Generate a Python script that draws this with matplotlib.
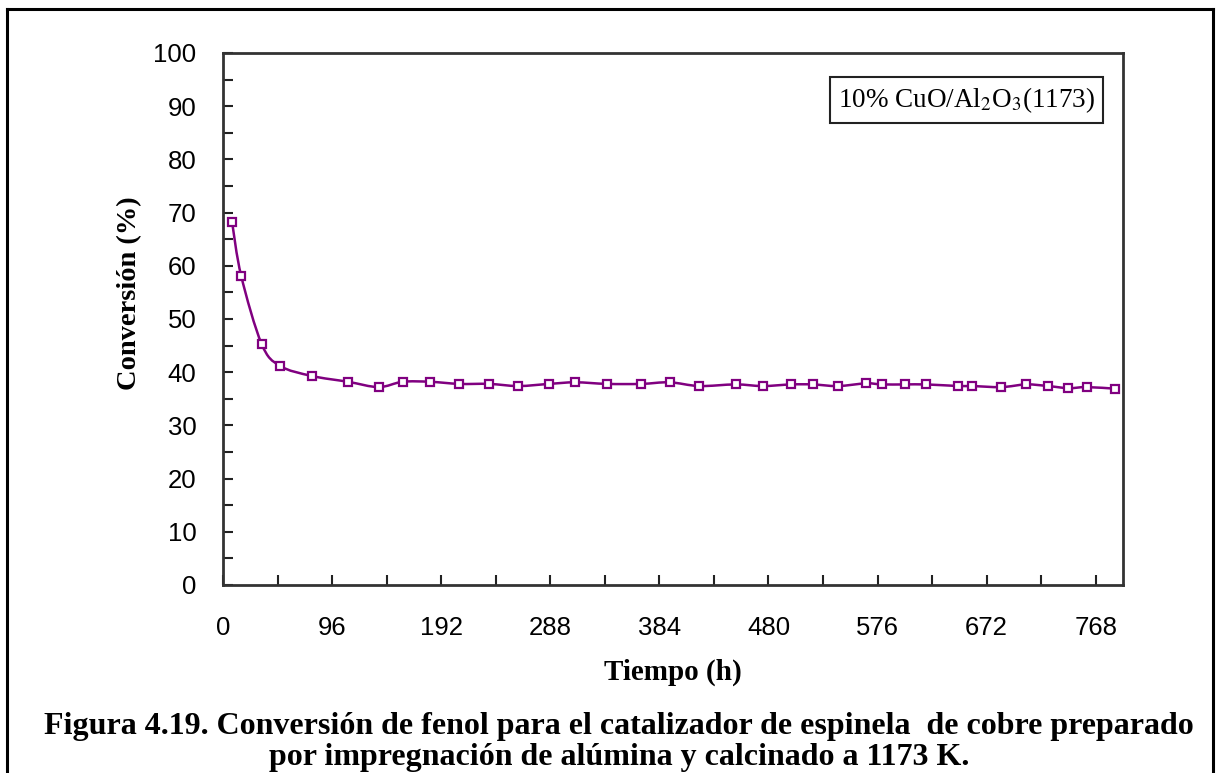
import matplotlib
matplotlib.use("Agg")
import matplotlib.pyplot as plt
from matplotlib.path import Path
from matplotlib.patches import PathPatch
from matplotlib.lines import Line2D
from matplotlib.ticker import MultipleLocator

# Conversión de fenol frente al tiempo, 10% CuO/Al2O3 calcinado a 1173 K
tiempo_h = [8, 16, 34, 50, 78, 110, 137, 158, 182, 208, 234, 260, 287, 310, 338,
            368, 393, 419, 451, 475, 500, 519, 541, 566, 580, 600, 619, 647, 659,
            685, 707, 726, 744, 760, 785]
conversion = [68.2, 58.1, 45.3, 41.2, 39.3, 38.2, 37.2, 38.2, 38.2, 37.8, 37.8,
              37.4, 37.8, 38.1, 37.8, 37.8, 38.1, 37.4, 37.7, 37.4, 37.7, 37.7,
              37.4, 37.9, 37.7, 37.7, 37.7, 37.4, 37.4, 37.2, 37.7, 37.4, 37.0,
              37.2, 36.9]
x_ticks = [0, 96, 192, 288, 384, 480, 576, 672, 768]
y_ticks = [0, 10, 20, 30, 40, 50, 60, 70, 80, 90, 100]

serie_label = r"10% CuO/Al$_2$O$_3$(1173)"
caption_1 = "Figura 4.19. Conversión de fenol para el catalizador de espinela  de cobre preparado"
caption_2 = "por impregnación de alúmina y calcinado a 1173 K."

PURPLE = "#800080"
plt.rcParams["mathtext.fontset"] = "stix"


def smooth_path(xs, ys):
    # curva suavizada tipo Catmull-Rom con segmentos Bezier cúbicos
    pts = list(zip(xs, ys))
    n = len(pts)
    verts = [pts[0]]
    codes = [Path.MOVETO]
    for i in range(n - 1):
        p0 = pts[i - 1] if i > 0 else pts[i]
        p1 = pts[i]
        p2 = pts[i + 1]
        p3 = pts[i + 2] if i + 2 < n else pts[i + 1]
        c1 = (p1[0] + (p2[0] - p0[0]) / 6, p1[1] + (p2[1] - p0[1]) / 6)
        c2 = (p2[0] - (p3[0] - p1[0]) / 6, p2[1] - (p3[1] - p1[1]) / 6)
        verts += [c1, c2, p2]
        codes += [Path.CURVE4] * 3
    return Path(verts, codes)


fig = plt.figure(figsize=(12.19, 7.73), dpi=100)
ax = fig.add_axes([223 / 1219, 1 - 585 / 773, 900 / 1219, 532 / 773])

ax.add_patch(PathPatch(smooth_path(tiempo_h, conversion), facecolor="none",
                       edgecolor=PURPLE, linewidth=1.8, zorder=3))
ax.plot(tiempo_h, conversion, linestyle="none", marker="s", markersize=5.5,
        markerfacecolor="white", markeredgecolor=PURPLE, markeredgewidth=1.6,
        zorder=4)

ax.set_xlim(0, 792)
ax.set_ylim(0, 100)
ax.set_xticks(x_ticks)
ax.set_yticks(y_ticks)
ax.xaxis.set_minor_locator(MultipleLocator(48))
ax.yaxis.set_minor_locator(MultipleLocator(5))
ax.tick_params(which="both", direction="in", length=7, width=1.5, color="#222222")
ax.tick_params(axis="y", which="major", pad=19)
ax.tick_params(axis="x", which="major", pad=22)
for lbl in ax.get_xticklabels() + ax.get_yticklabels():
    lbl.set_fontfamily("Liberation Sans")
    lbl.set_fontsize(18.5)
for sp in ax.spines.values():
    sp.set_linewidth(2)
    sp.set_color("#333333")

ax.set_xlabel("Tiempo (h)", family="Liberation Serif", fontweight="bold",
              fontsize=21, labelpad=14)
ax.set_ylabel("Conversión (%)", family="Liberation Serif", fontweight="bold",
              fontsize=20.5)
ax.yaxis.set_label_coords(-0.09, 0.549)

ax.text(0.969, 0.912, serie_label, transform=ax.transAxes, ha="right", va="center",
        family="Liberation Serif", fontsize=19.5,
        bbox=dict(boxstyle="square,pad=0.3", facecolor="white",
                  edgecolor="#222222", linewidth=1.5))

fig.text(0.508, 1 - 734 / 773, caption_1, ha="center", va="baseline",
         family="Liberation Serif", fontweight="bold", fontsize=23)
fig.text(0.508, 1 - 765 / 773, caption_2, ha="center", va="baseline",
         family="Liberation Serif", fontweight="bold", fontsize=23)

# marco de la figura (superior, izquierdo y derecho)
for xs, ys in [([7 / 1219, 1213 / 1219], [1 - 9 / 773, 1 - 9 / 773]),
               ([7 / 1219, 7 / 1219], [0, 1 - 9 / 773]),
               ([1213 / 1219, 1213 / 1219], [0, 1 - 9 / 773])]:
    fig.add_artist(Line2D(xs, ys, color="black", linewidth=2.2,
                          transform=fig.transFigure))

fig.savefig("out.png", dpi=100)
